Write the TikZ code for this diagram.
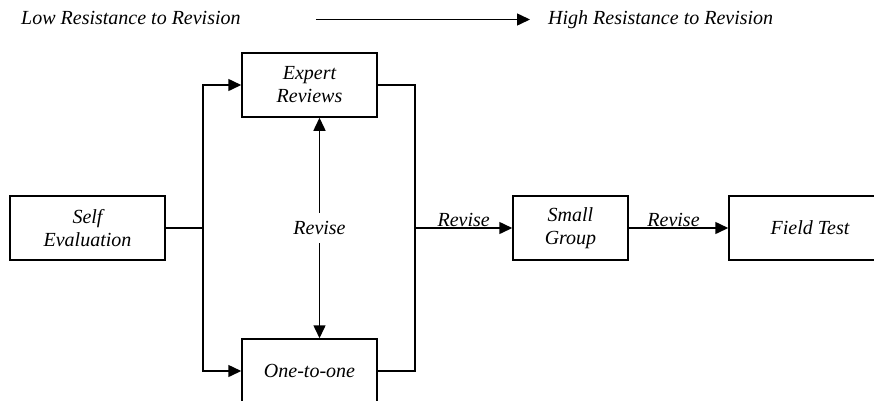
\documentclass[tikz,border=0pt]{standalone}
\usepackage{fontspec}
\setmainfont{Liberation Serif}
\usetikzlibrary{arrows.meta}
\tikzset{
    >={Triangle[length=13pt, width=12pt]},
    common/.style={font=\itshape\fontsize{20}{23}\selectfont, align=center},
    box/.style={common, draw, rectangle, line width=1.5pt, minimum height=64pt, inner sep=0pt},
    flow/.style={line width=1.5pt},
    heading/.style={common, anchor=base west, inner sep=0pt, text height=14pt, text depth=5pt}
}

\begin{document}
\begin{tikzpicture}[x=1pt, y=-1pt]
          \clip (0,0) rectangle (874,400);

          \path
            (21,24) node[heading] (low-resistance) {Low Resistance to Revision}
            (548,24) node[heading] (high-resistance) {High Resistance to Revision};

          \draw[flow, ->, shorten <=75pt, shorten >=18pt]
            (low-resistance.east) -- (high-resistance.west);

          \path
            (87.5,228) node[box, minimum width=155pt] (self-eval) {Self\\Evaluation}
            ++(222,-143) node[box, minimum width=135pt] (expert-reviews) {Expert\\Reviews}
            ++(0,286) node[box, minimum width=135pt] (one-to-one) {One-to-one}
            ++(261,-143) node[box, minimum width=115pt] (small-group) {Small\\Group}
            ++(239.5,0) node[box, minimum width=162pt] (field-test) {Field Test};

          \coordinate (split) at (203,228);
          \coordinate (merge) at (415,228);

          \draw[flow] (self-eval.east) -- (split);
          \draw[flow, ->] (split) |- (expert-reviews.west);
          \draw[flow, ->] (split) |- (one-to-one.west);
          \draw[flow] (expert-reviews.east) -| (merge) |- (one-to-one.east);

          \draw[flow, ->] (merge) -- node[common, above, inner sep=1pt] {Revise} (small-group.west);
          \draw[flow, ->] (small-group.east) -- node[common, above, pos=0.45, inner sep=1pt] {Revise} (field-test.west);

          \draw[flow, <->] ([xshift=10pt]expert-reviews.south) -- node[common, fill=white, inner ysep=8pt] (revise-mid) {Revise} ([xshift=10pt]one-to-one.north);
        \end{tikzpicture}
\end{document}
